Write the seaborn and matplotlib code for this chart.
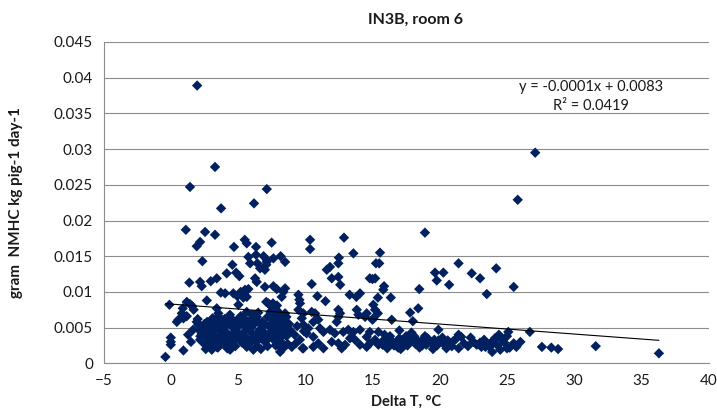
import matplotlib
matplotlib.use("Agg")
import matplotlib.pyplot as plt
import seaborn as sns
import pandas as pd

# Temperature difference (°C) and NMHC emission (g per kg pig per day)
delta_t = [
    -0.4, 0.0, 0.0, 0.0, -0.1, 0.45, 0.57, 0.94, 1.19, 0.82, 0.89, 1.19, 1.43, 1.38, 0.94,
    1.12, 1.43, 1.93, 2.18, 1.96, 1.93, 2.05, 1.6, 1.7, 1.66, 1.29, 1.5,
    2.35, 2.18, 2.30, 2.97, 3.42, 2.68, 3.29, 3.29, 2.55, 3.74, 3.54, 3.42,
    3.72, 4.04, 4.65, 4.95, 4.16, 4.58, 4.86, 4.70, 4.41,
    2.3, 2.5, 2.6, 2.8, 2.9, 3.0, 3.1, 3.2, 3.3, 3.4, 3.5, 3.6, 3.7, 3.8, 3.9, 4.0, 4.1,
    4.2, 4.3, 4.5, 4.6, 4.7, 4.8, 4.9, 2.7, 3.1, 2.4, 2.2, 3.9, 4.4, 4.8, 4.2, 3.3,
    2.68, 2.3, 2.18, 2.55, 3.05, 3.42, 3.6, 4.0, 4.3, 2.9, 3.2, 3.5, 4.5, 3.8, 2.6,
    5.1, 5.2, 5.52, 5.77, 5.4, 5.65, 5.03, 5.77, 6.34, 5.9, 6.44, 6.64, 7.14, 7.0,
    6.27, 6.39, 7.26, 6.14, 5.5, 5.65, 6.34, 7.5, 6.19, 7.14, 7.14, 6.9, 7.1, 7.0,
    7.1, 7.4,
    5.2, 5.4, 5.5, 5.6, 5.8, 5.9, 6.0, 6.1, 6.3, 6.4, 6.5, 6.6, 6.8, 6.9, 7.0, 7.2,
    7.3, 7.4, 5.3, 6.2, 5.7, 6.7, 7.2, 5.1, 6.5,
    5.65, 6.02, 6.39, 6.64, 7.0, 6.39, 5.9, 5.65, 5.3, 6.0, 6.8, 7.3,
    8.17, 7.63, 8.5, 7.63, 7.88, 8.37, 8.5, 8.25, 9.49, 9.56,
    7.6, 7.9, 7.7, 7.9, 7.4, 7.7, 8.25, 8.5, 8.6, 9.61, 9.49, 9.86, 9.74,
    8.25, 8.13, 9.0, 9.8,
    7.6, 7.8, 7.9, 8.0, 8.1, 8.2, 8.3, 8.4, 8.5, 8.6, 8.7, 7.7, 7.6, 7.8, 8.0, 8.8,
    8.9, 9.2, 9.4, 9.6, 9.9, 9.3,
    10.36, 10.36, 10.48, 12.88, 13.58, 12.5, 12.46, 11.84, 11.6, 11.97, 12.46, 12.6,
    14.07, 13.8, 14.8, 15.2, 10.9, 11.5, 13.3,
    10.48, 10.73, 10.97, 10.6, 12.46, 12.59, 12.46, 12.34, 13.83, 13.95, 14.57, 14.45,
    15.06, 15.06, 15.19,
    11.1, 11.35, 11.84, 12.2, 12.83, 13.2, 13.58, 14.07, 14.8, 14.57,
    9.86, 10.23, 10.1, 10.6, 9.86, 10.6, 10.97, 11.35, 11.97, 12.46, 12.71, 12.96,
    13.33, 13.7, 14.07, 14.57, 14.82, 15.19, 15.44,
    15.56, 15.5, 15.26, 18.9, 15.0, 15.86, 15.8, 15.4, 16.36, 18.48,
    15.4, 17.8, 18.4, 18.0, 16.43, 15.44, 19.9, 15.0, 17.0, 17.9,
    15.7, 16.0, 16.2, 16.4, 16.6, 16.8, 17.0, 17.2, 17.4, 17.6, 17.8, 18.0, 18.2, 18.4,
    18.6, 18.8, 19.0, 19.2, 19.4, 19.6, 19.8, 20.0, 20.3, 20.6, 16.1, 17.1, 18.5, 19.5,
    15.9, 17.5, 18.9, 20.2, 15.76,
    19.65, 20.27, 19.78, 20.7, 21.4, 22.38, 23.0, 23.5, 24.2, 25.5,
    21.4, 21.6, 21.4, 20.8, 22.5, 23.4, 22.75,
    21.0, 21.8, 22.1, 23.0, 23.7, 24.0, 24.3, 24.6, 24.8, 25.0, 25.2, 24.5,
    25.1, 24.7, 24.1, 23.7, 23.9, 25.5, 26.0, 25.7, 25.0, 23.1, 26.7, 27.6, 28.3,
    28.8, 31.6, 25.8, 27.1, 36.3,
    2.0, 2.2, 2.5, 2.8, 3.0, 3.2, 3.4, 3.6, 3.8, 4.0, 4.2, 4.4, 4.6, 4.8, 5.0, 5.2,
    5.4, 5.6, 5.8, 6.0, 6.2, 6.6, 7.0, 7.6, 7.9, 8.2, 8.4, 8.1, 2.9, 3.5, 4.1, 4.7,
    16.3, 17.3, 18.1, 19.1, 19.9, 20.9, 21.2, 22.3, 23.3, 24.4, 16.9, 18.7, 20.5,
]
nmhc = [
    0.0009, 0.0036, 0.0030, 0.0026, 0.0082, 0.0058, 0.0061, 0.0063, 0.0066, 0.0070,
    0.0077, 0.0086, 0.0083, 0.0113, 0.0018,
    0.0187, 0.0247, 0.0164, 0.0170, 0.0389, 0.0058, 0.0054, 0.0080, 0.0075, 0.0047,
    0.0040, 0.0030,
    0.0143, 0.0114, 0.0108, 0.0115, 0.0119, 0.0088, 0.0275, 0.0180, 0.0184, 0.0217,
    0.0070, 0.0077,
    0.0099, 0.0098, 0.0098, 0.0094, 0.0126, 0.0138, 0.0127, 0.0163, 0.0019,
    0.0049, 0.0043, 0.0036, 0.0031, 0.0025, 0.0045, 0.0052, 0.0040, 0.0033, 0.0028,
    0.0022, 0.0047, 0.0056, 0.0038, 0.0030, 0.0062, 0.0044,
    0.0035, 0.0027, 0.0052, 0.0041, 0.0032, 0.0024, 0.0060, 0.0058, 0.0063, 0.0030,
    0.0038, 0.0050, 0.0068, 0.0047, 0.0021, 0.0057,
    0.0049, 0.0042, 0.0033, 0.0026, 0.0019, 0.0023, 0.0026, 0.0034, 0.0056, 0.0054,
    0.0061, 0.0049, 0.0037, 0.0045, 0.0020,
    0.0122, 0.0100, 0.0103, 0.0104, 0.0092, 0.0093, 0.0082, 0.0149, 0.0152, 0.0140,
    0.0140, 0.0133, 0.0142, 0.0131,
    0.0119, 0.0114, 0.0084, 0.0019, 0.0173, 0.0168, 0.0163, 0.0169, 0.0224, 0.0244,
    0.0145, 0.0150, 0.0138, 0.0107,
    0.0086, 0.0081,
    0.0066, 0.0055, 0.0045, 0.0036, 0.0028, 0.0060, 0.0050, 0.0041, 0.0033, 0.0024,
    0.0071, 0.0056, 0.0046, 0.0038, 0.0030, 0.0065,
    0.0052, 0.0043, 0.0029, 0.0068, 0.0051, 0.0020, 0.0024, 0.0040, 0.0044,
    0.0072, 0.0068, 0.0065, 0.0047, 0.0040, 0.0035, 0.0030, 0.0023, 0.0059, 0.0034,
    0.0058, 0.0036,
    0.0150, 0.0147, 0.0142, 0.0108, 0.0104, 0.0100, 0.0105, 0.0093, 0.0096, 0.0089,
    0.0084, 0.0081, 0.0076, 0.0074, 0.0072, 0.0067, 0.0067, 0.0070, 0.0065, 0.0084,
    0.0075, 0.0070, 0.0063,
    0.0021, 0.0016, 0.0023, 0.0021,
    0.0060, 0.0054, 0.0048, 0.0041, 0.0035, 0.0030, 0.0058, 0.0050, 0.0044, 0.0038,
    0.0027, 0.0032, 0.0044, 0.0025, 0.0062, 0.0055,
    0.0046, 0.0040, 0.0052, 0.0033, 0.0045, 0.0028,
    0.0173, 0.0160, 0.0111, 0.0176, 0.0154, 0.0148, 0.0140, 0.0135, 0.0131, 0.0119,
    0.0121, 0.0110,
    0.0098, 0.0093, 0.0119, 0.0119, 0.0094, 0.0087, 0.0096,
    0.0072, 0.0070, 0.0061, 0.0058, 0.0075, 0.0070, 0.0065, 0.0058, 0.0075, 0.0068,
    0.0070, 0.0065,
    0.0063, 0.0082, 0.0075,
    0.0049, 0.0044, 0.0047, 0.0042, 0.0044, 0.0047, 0.0044, 0.0047, 0.0044, 0.0037,
    0.0054, 0.0049, 0.0042, 0.0037, 0.0021, 0.0023, 0.0028, 0.0021, 0.0030, 0.0028,
    0.0021, 0.0026,
    0.0035, 0.0033, 0.0026, 0.0023, 0.0028, 0.0033, 0.0026,
    0.0155, 0.0140, 0.0140, 0.0183, 0.0118, 0.0108, 0.0103, 0.0092, 0.0092, 0.0104,
    0.0070, 0.0071, 0.0077, 0.0059, 0.0061, 0.0044, 0.0047, 0.0061, 0.0046, 0.0043,
    0.0030, 0.0035, 0.0027, 0.0032, 0.0025, 0.0030, 0.0035, 0.0028, 0.0032, 0.0025,
    0.0030, 0.0034, 0.0027, 0.0031,
    0.0029, 0.0034, 0.0026, 0.0031, 0.0028, 0.0033, 0.0025, 0.0030, 0.0027, 0.0032,
    0.0021, 0.0020, 0.0022, 0.0020,
    0.0040, 0.0038, 0.0038, 0.0036, 0.0026,
    0.0127, 0.0127, 0.0116, 0.0110, 0.0140, 0.0126, 0.0119, 0.0097, 0.0133, 0.0107,
    0.0040, 0.0037, 0.0021, 0.0027, 0.0030, 0.0023, 0.0026,
    0.0031, 0.0028, 0.0024, 0.0029, 0.0027, 0.0032, 0.0025, 0.0034, 0.0029, 0.0038,
    0.0022, 0.0019,
    0.0044, 0.0033, 0.0035, 0.0023, 0.0016, 0.0028, 0.0030, 0.0023, 0.0021, 0.0023,
    0.0044, 0.0023, 0.0022,
    0.0020, 0.0024, 0.0229, 0.0295, 0.0014,
    0.0062, 0.0045, 0.0055, 0.0040, 0.0035, 0.0028, 0.0050, 0.0037, 0.0061, 0.0042,
    0.0056, 0.0031, 0.0061, 0.0036, 0.0051, 0.0033, 0.0064, 0.0026, 0.0047, 0.0031,
    0.0055, 0.0034, 0.0055, 0.0052, 0.0037, 0.0045, 0.0022, 0.0053, 0.0054, 0.0064,
    0.0025, 0.0053,
    0.0038, 0.0024, 0.0038, 0.0035, 0.0032, 0.0024, 0.0034, 0.0036, 0.0033, 0.0040,
    0.0022, 0.0025, 0.0021,
]

# Linear trend as stated in the chart annotation
trend_slope = -0.00014
trend_intercept = 0.0083
r_squared = 0.0419

x_ticks = [-5, 0, 5, 10, 15, 20, 25, 30, 35, 40]
y_ticks = [0, 0.005, 0.01, 0.015, 0.02, 0.025, 0.03, 0.035, 0.04, 0.045]
y_tick_labels = ["0", "0.005", "0.01", "0.015", "0.02", "0.025", "0.03", "0.035", "0.04", "0.045"]

df = pd.DataFrame({"delta_t": delta_t, "nmhc": nmhc})

sns.set_theme(style="white")
plt.rcParams["font.family"] = ["Lato", "DejaVu Sans"]

grid_grey = "#8c8c8c"
text_col = "#1a1a1a"
marker_col = "#002060"

fig = plt.figure(figsize=(7.17, 4.19), dpi=100)
ax = fig.add_axes([0.1444, 0.1329, 0.9884 - 0.1444, 0.8998 - 0.1329])

sns.scatterplot(data=df, x="delta_t", y="nmhc", marker="D", s=28,
                color=marker_col, edgecolor="none", linewidth=0, ax=ax, zorder=3)

x_lo, x_hi = min(delta_t), max(delta_t)
trend = pd.DataFrame({"x": [x_lo, x_hi],
                      "y": [trend_intercept + trend_slope * x_lo,
                            trend_intercept + trend_slope * x_hi]})
sns.lineplot(data=trend, x="x", y="y", color="black", linewidth=0.8, ax=ax, zorder=4)

ax.set_xlim(-5, 40)
ax.set_ylim(0, 0.045)
ax.set_xticks(x_ticks)
ax.set_yticks(y_ticks)
ax.set_yticklabels(y_tick_labels)
ax.yaxis.grid(True, color=grid_grey, linewidth=0.8)
ax.xaxis.grid(False)
ax.set_axisbelow(True)

for side in ["top", "right"]:
    ax.spines[side].set_visible(False)
for side in ["left", "bottom"]:
    ax.spines[side].set_color(grid_grey)
    ax.spines[side].set_linewidth(0.8)

ax.tick_params(axis="both", which="major", direction="out", length=4.5, width=0.8,
               color=grid_grey, labelsize=11, labelcolor=text_col, pad=3)

ax.set_xlabel("Delta T, °C", fontsize=10.5, fontweight="bold", color=text_col, labelpad=5)
ax.set_ylabel("gram  NMHC kg pig-1 day-1", fontsize=11, fontweight="bold",
              color=text_col, labelpad=22)
ax.set_title("IN3B, room 6", fontsize=11.5, fontweight="bold", color=text_col,
             pad=13, x=0.515)

eq_text = f"y = {trend_slope:.4f}x + {trend_intercept:.4f}\nR² = {r_squared:.4f}"
ax.text(0.8055, 0.830, eq_text, transform=ax.transAxes, ha="center", va="center",
        fontsize=10.5, color=text_col, linespacing=1.4)

fig.savefig("out.png", dpi=100)
